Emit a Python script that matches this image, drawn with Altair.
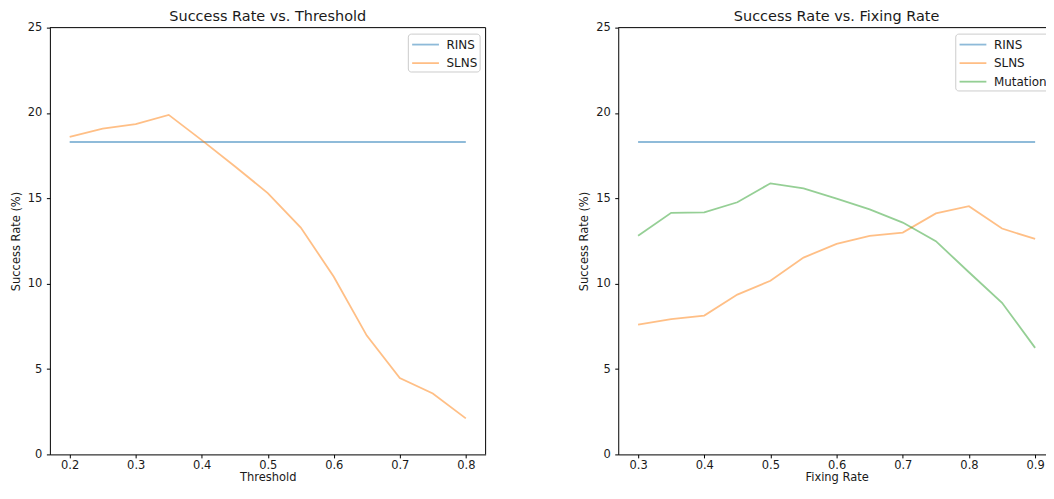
import altair as alt
import pandas as pd

# ---- data ----
thr_x = [0.2, 0.25, 0.3, 0.35, 0.4, 0.45, 0.5, 0.55, 0.6, 0.65, 0.7, 0.75, 0.8]
thr_rins = [18.3, 18.3, 18.3, 18.3, 18.3, 18.3, 18.3, 18.3, 18.3, 18.3, 18.3, 18.3, 18.3]
thr_slns = [18.6, 19.08, 19.35, 19.89, 18.41, 16.88, 15.31, 13.29, 10.41, 6.96, 4.47, 3.57, 2.11]

fix_x = [0.3, 0.35, 0.4, 0.45, 0.5, 0.55, 0.6, 0.65, 0.7, 0.75, 0.8, 0.85, 0.9]
fix_rins = [18.3, 18.3, 18.3, 18.3, 18.3, 18.3, 18.3, 18.3, 18.3, 18.3, 18.3, 18.3, 18.3]
fix_slns = [7.6, 7.92, 8.13, 9.36, 10.17, 11.53, 12.33, 12.8, 12.99, 14.12, 14.54, 13.23, 12.62]
fix_mut = [12.81, 14.15, 14.18, 14.77, 15.88, 15.58, 14.98, 14.35, 13.58, 12.49, 10.67, 8.88, 6.24]

y_ticks = [0, 5, 10, 15, 20, 25]
thr_ticks = [0.2, 0.3, 0.4, 0.5, 0.6, 0.7, 0.8]
fix_ticks = [0.3, 0.4, 0.5, 0.6, 0.7, 0.8, 0.9]

names_left = ["RINS", "SLNS"]
names_right = ["RINS", "SLNS", "Mutation"]
colors_left = ["#1f77b4", "#ff7f0e"]
colors_right = ["#1f77b4", "#ff7f0e", "#2ca02c"]

FONT = "DejaVu Sans"
TXT = "#1a1a1a"
H = 428


def long_df(x, series):
    rows = []
    for name, vals in series:
        for xi, v in zip(x, vals):
            rows.append({"x": xi, "y": v, "method": name})
    return pd.DataFrame(rows)


def panel(df, names, colors, title, xtitle, xdomain, xticks, width):
    legend = alt.Legend(
        title=None, orient="top-right", offset=6, padding=2,
        strokeColor="#cccccc", fillColor="white", cornerRadius=3,
        symbolType="M-1.68,0H1.68", symbolSize=256, symbolStrokeWidth=1.8,
        symbolOffset=6.75, symbolOpacity=0.5,
        labelFont=FONT, labelFontSize=12, labelColor=TXT,
        rowPadding=3.6, labelOffset=12,
    )
    lines = alt.Chart(df).mark_line(strokeWidth=1.8, strokeOpacity=0.5).encode(
        x=alt.X("x:Q",
                scale=alt.Scale(domain=xdomain, nice=False, zero=False),
                axis=alt.Axis(values=xticks, format=".1f", title=xtitle)),
        y=alt.Y("y:Q",
                scale=alt.Scale(domain=[0, 25], nice=False),
                axis=alt.Axis(values=y_ticks, title="Success Rate (%)")),
        color=alt.Color("method:N",
                        scale=alt.Scale(domain=names, range=colors),
                        sort=names, legend=legend),
        order=alt.Order("x:Q"),
    )
    one = pd.DataFrame({"k": [0]})
    top = alt.Chart(one).mark_rule(color="black", strokeWidth=1).encode(
        x=alt.value(0), x2=alt.value(width), y=alt.value(0))
    right = alt.Chart(one).mark_rule(color="black", strokeWidth=1).encode(
        x=alt.value(width), y=alt.value(0), y2=alt.value(H))
    return alt.layer(lines, top, right).properties(
        width=width, height=H, title=title,
    )


left = panel(long_df(thr_x, [("RINS", thr_rins), ("SLNS", thr_slns)]),
             names_left, colors_left, "Success Rate vs. Threshold",
             "Threshold", [0.17, 0.83], thr_ticks, 437)

right = panel(long_df(fix_x, [("RINS", fix_rins), ("SLNS", fix_slns),
                              ("Mutation", fix_mut)]),
              names_right, colors_right, "Success Rate vs. Fixing Rate",
              "Fixing Rate", [0.27, 0.93], fix_ticks, 438)

chart = alt.hconcat(left, right, spacing=92).resolve_scale(
    color="independent", x="independent"
).configure(
    font=FONT, padding={"left": 2, "top": 0, "right": -10, "bottom": 0},
).configure_view(
    stroke=None,
).configure_axis(
    grid=False, domainColor="black", domainWidth=1,
    tickColor="black", tickSize=3.5, tickWidth=1,
    labelFont=FONT, labelFontSize=11.5, labelColor=TXT,
    titleFont=FONT, titleFontSize=11.5, titleFontWeight="normal",
    titleColor=TXT,
).configure_axisX(labelPadding=1.5, titlePadding=1).configure_axisY(
    labelPadding=4.5, titlePadding=6
).configure_title(
    font=FONT, fontSize=14.5, fontWeight="normal", color=TXT, offset=-2.5,
)

chart.save("out.html", embed_options={"renderer": "svg", "actions": False})
